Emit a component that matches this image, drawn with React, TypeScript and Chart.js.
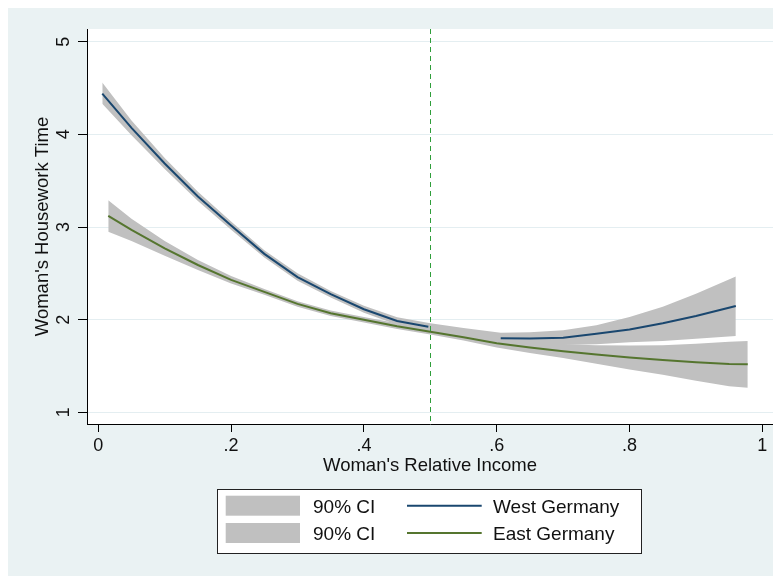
import { useEffect, useRef } from "react";
import { Chart, registerables } from "chart.js";

Chart.register(...registerables);

// ---- axis setup ----
const X_TICKS = [0, 0.2, 0.4, 0.6, 0.8, 1];
const Y_TICKS = [1, 2, 3, 4, 5];
const X_MIN = -0.017;
const X_MAX = 1.016;
const Y_MIN = 0.874;
const Y_MAX = 5.137;
const REF_X = 0.5;

const X_TITLE = "Woman's Relative Income";
const Y_TITLE = "Woman's Housework Time";

// ---- West Germany ----
const WEST_X = [0.006, 0.05, 0.1, 0.15, 0.2, 0.25, 0.3, 0.35, 0.4, 0.45, 0.497, 0.55, 0.606, 0.65, 0.7, 0.75, 0.8, 0.85, 0.9, 0.96];
const WEST_Y = [4.44, 4.07, 3.685, 3.33, 3.015, 2.71, 2.46, 2.275, 2.113, 1.985, 1.924, null, 1.8, 1.797, 1.805, 1.847, 1.893, 1.962, 2.04, 2.148];
const WEST_BAND_X = [0.006, 0.05, 0.1, 0.15, 0.2, 0.25, 0.3, 0.35, 0.4, 0.45, 0.5, 0.55, 0.606, 0.65, 0.7, 0.75, 0.8, 0.85, 0.9, 0.96];
const WEST_UPPER = [4.56, 4.15, 3.745, 3.38, 3.06, 2.75, 2.5, 2.31, 2.15, 2.025, 1.96, 1.91, 1.86, 1.865, 1.885, 1.94, 2.03, 2.14, 2.28, 2.465];
const WEST_LOWER = [4.33, 3.99, 3.625, 3.28, 2.97, 2.67, 2.42, 2.24, 2.075, 1.945, 1.88, 1.8, 1.74, 1.73, 1.726, 1.735, 1.755, 1.77, 1.795, 1.825];

// ---- East Germany ----
const EAST_X = [0.015, 0.05, 0.1, 0.15, 0.2, 0.25, 0.3, 0.35, 0.4, 0.45, 0.5, 0.55, 0.6, 0.65, 0.7, 0.75, 0.8, 0.85, 0.9, 0.95, 0.978];
const EAST_Y = [3.12, 2.97, 2.77, 2.59, 2.43, 2.3, 2.17, 2.07, 2.0, 1.93, 1.87, 1.81, 1.745, 1.7, 1.66, 1.625, 1.592, 1.565, 1.54, 1.522, 1.518];
const EAST_UPPER = [3.29, 3.09, 2.85, 2.645, 2.47, 2.33, 2.2, 2.1, 2.03, 1.96, 1.9, 1.845, 1.79, 1.76, 1.735, 1.725, 1.72, 1.725, 1.74, 1.762, 1.771];
const EAST_LOWER = [2.95, 2.85, 2.69, 2.535, 2.39, 2.27, 2.14, 2.04, 1.97, 1.9, 1.84, 1.775, 1.7, 1.64, 1.585, 1.525, 1.462, 1.405, 1.34, 1.282, 1.265];

const CI_LABEL = "90% CI";
const WEST_LABEL = "West Germany";
const EAST_LABEL = "East Germany";

// ---- styles ----
const FONT = "'Liberation Sans', Arial, sans-serif";
const BG = "#EAF2F3";
const GRID = "#E4EEF1";
const CI_COLOR = "#C0C0C0";
const WEST_COLOR = "#1A476F";
const EAST_COLOR = "#55752F";
const REF_COLOR = "#2F9E3A";
const TEXT = "#111111";

const pts = (xs: number[], ys: (number | null)[]) => xs.map((x, i) => ({ x, y: ys[i] }));

const fmtX = (v: number) => (v === 0 ? "0" : v === 1 ? "1" : String(v).replace(/^0/, ""));

const bgPlugin = {
  id: "bg",
  beforeDraw(chart: any) {
    const { ctx, chartArea: a, width, height } = chart;
    ctx.save();
    ctx.fillStyle = BG;
    ctx.fillRect(0, 0, width, height);
    ctx.fillStyle = "#ffffff";
    ctx.fillRect(a.left, a.top, a.right - a.left, a.bottom - a.top);
    ctx.restore();
  },
};

const refPlugin = {
  id: "refline",
  afterDatasetsDraw(chart: any) {
    const { ctx, chartArea: a, scales } = chart;
    const px = Math.round(scales.x.getPixelForValue(REF_X)) + 0.5;
    ctx.save();
    ctx.strokeStyle = REF_COLOR;
    ctx.lineWidth = 1;
    ctx.setLineDash([5, 4]);
    ctx.beginPath();
    ctx.moveTo(px, a.top);
    ctx.lineTo(px, a.bottom);
    ctx.stroke();
    ctx.restore();
  },
};

const yLabelPlugin = {
  id: "ylabels",
  afterDraw(chart: any) {
    const { ctx, scales } = chart;
    const s = scales.y;
    ctx.save();
    ctx.fillStyle = TEXT;
    ctx.font = `18px ${FONT}`;
    ctx.textAlign = "center";
    ctx.textBaseline = "alphabetic";
    for (const t of s.ticks) {
      const py = s.getPixelForValue(t.value);
      ctx.save();
      ctx.translate(s.right - 17.7, py);
      ctx.rotate(-Math.PI / 2);
      ctx.fillText(String(t.value), 0, 0);
      ctx.restore();
    }
    ctx.restore();
  },
};

const legendPlugin = {
  id: "stataLegend",
  afterDraw(chart: any) {
    const { ctx } = chart;
    const ds = chart.data.datasets;
    const rows = [
      { band: ds[2], line: ds[0] },
      { band: ds[4], line: ds[1] },
    ];
    ctx.save();
    ctx.fillStyle = "#ffffff";
    ctx.fillRect(209.5, 481.5, 424, 64);
    ctx.strokeStyle = "#222222";
    ctx.lineWidth = 1;
    ctx.strokeRect(209.5, 481.5, 424, 64);
    ctx.font = `19px ${FONT}`;
    ctx.textBaseline = "alphabetic";
    ctx.textAlign = "left";
    rows.forEach((r, i) => {
      const cy = 497.7 + i * 27.3;
      ctx.fillStyle = r.band.backgroundColor;
      ctx.fillRect(217.7, cy - 10, 74.3, 20);
      ctx.fillStyle = TEXT;
      ctx.fillText(r.band.label, 305, cy + 7.3);
      ctx.strokeStyle = r.line.borderColor;
      ctx.lineWidth = 2;
      ctx.beginPath();
      ctx.moveTo(399, cy);
      ctx.lineTo(473.7, cy);
      ctx.stroke();
      ctx.fillStyle = TEXT;
      ctx.fillText(r.line.label, 485, cy + 7.3);
    });
    ctx.restore();
  },
};

export default function App() {
  const ref = useRef<HTMLCanvasElement | null>(null);

  useEffect(() => {
    document.documentElement.style.overflow = "hidden";
    document.body.style.overflow = "hidden";
    if (!ref.current) return;
    const chart = new Chart(ref.current, {
      type: "line",
      data: {
        datasets: [
          {
            label: WEST_LABEL,
            data: pts(WEST_X, WEST_Y),
            borderColor: WEST_COLOR,
            borderWidth: 2,
            pointRadius: 0,
            fill: false,
            spanGaps: false,
            order: 0,
          },
          {
            label: EAST_LABEL,
            data: pts(EAST_X, EAST_Y),
            borderColor: EAST_COLOR,
            borderWidth: 2,
            pointRadius: 0,
            fill: false,
            order: 0,
          },
          {
            label: CI_LABEL,
            data: pts(WEST_BAND_X, WEST_UPPER),
            borderColor: "rgba(0,0,0,0)",
            borderWidth: 1,
            backgroundColor: CI_COLOR,
            pointRadius: 0,
            fill: "+1",
            order: 1,
          },
          {
            label: CI_LABEL + " lower",
            data: pts(WEST_BAND_X, WEST_LOWER),
            borderColor: "rgba(0,0,0,0)",
            borderWidth: 1,
            pointRadius: 0,
            fill: false,
            order: 1,
          },
          {
            label: CI_LABEL,
            data: pts(EAST_X, EAST_UPPER),
            borderColor: "rgba(0,0,0,0)",
            borderWidth: 1,
            backgroundColor: CI_COLOR,
            pointRadius: 0,
            fill: "+1",
            order: 2,
          },
          {
            label: CI_LABEL + " lower",
            data: pts(EAST_X, EAST_LOWER),
            borderColor: "rgba(0,0,0,0)",
            borderWidth: 1,
            pointRadius: 0,
            fill: false,
            order: 2,
          },
        ],
      },
      options: {
        responsive: false,
        animation: false,
        events: [],
        layout: { padding: { left: 0, right: 8, top: 21, bottom: 0 } },
        plugins: {
          legend: { display: false },
          tooltip: { enabled: false },
          title: { display: false },
        },
        scales: {
          x: {
            type: "linear",
            min: X_MIN,
            max: X_MAX,
            afterBuildTicks: (s: any) => {
              s.ticks = X_TICKS.map((v) => ({ value: v }));
            },
            afterFit: (s: any) => {
              s.height = 152;
            },
            grid: {
              display: true,
              drawOnChartArea: false,
              drawTicks: true,
              tickLength: 8,
              tickColor: "#000000",
              tickWidth: 1,
            },
            border: { display: true, color: "#000000", width: 1 },
            ticks: {
              padding: 3,
              color: TEXT,
              font: { family: FONT, size: 18 },
              maxRotation: 0,
              minRotation: 0,
              autoSkip: false,
              callback: (v: any) => fmtX(Number(v)),
            },
            title: {
              display: true,
              text: X_TITLE,
              color: TEXT,
              font: { family: FONT, size: 18.5 },
              padding: { top: 0, bottom: 98.6 },
            },
          },
          y: {
            type: "linear",
            min: Y_MIN,
            max: Y_MAX,
            afterBuildTicks: (s: any) => {
              s.ticks = Y_TICKS.map((v) => ({ value: v }));
            },
            afterFit: (s: any) => {
              s.width = 79;
            },
            grid: {
              display: true,
              drawOnChartArea: true,
              color: GRID,
              lineWidth: 1,
              drawTicks: true,
              tickLength: 9,
              tickColor: "#000000",
              tickWidth: 1,
            },
            border: { display: true, color: "#000000", width: 1 },
            ticks: { display: false },
            title: {
              display: true,
              text: Y_TITLE,
              color: TEXT,
              font: { family: FONT, size: 18.5 },
              padding: { top: 23.8, bottom: 0 },
            },
          },
        },
      },
      plugins: [bgPlugin, refPlugin, yLabelPlugin, legendPlugin],
    } as any);
    return () => chart.destroy();
  }, []);

  return (
    <div style={{ width: 773, height: 568 }}>
      <canvas ref={ref} width={773} height={568} style={{ display: "block" }} />
    </div>
  );
}
